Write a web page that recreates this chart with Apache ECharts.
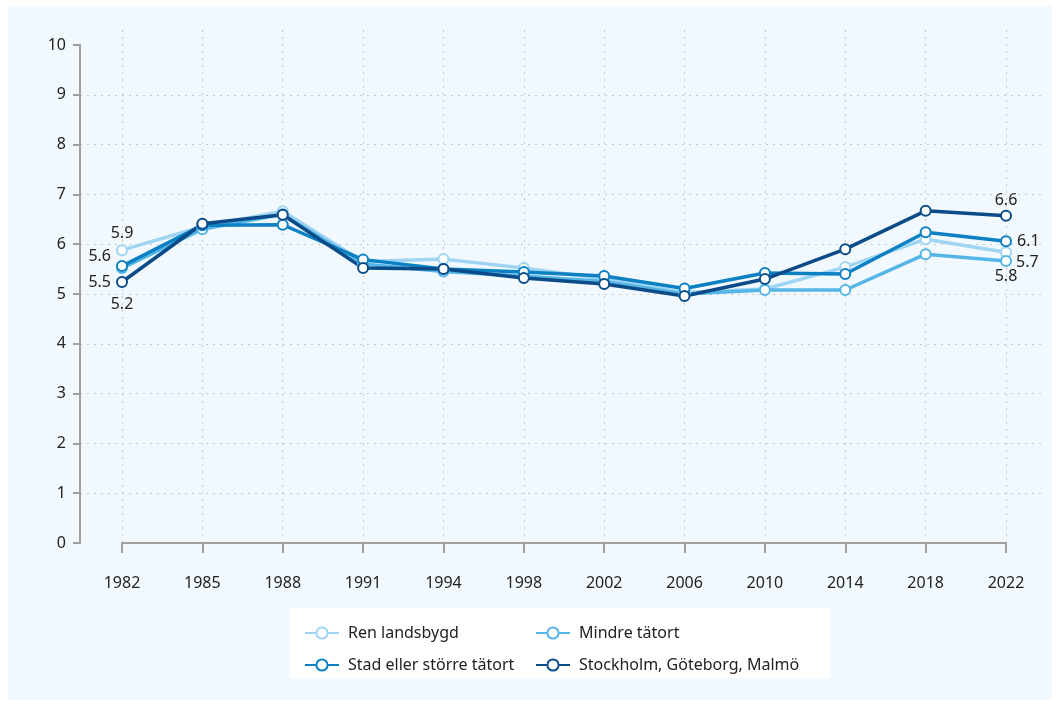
<!DOCTYPE html>
<html>
<head>
<meta charset="utf-8">
<script src="https://cdn.jsdelivr.net/npm/echarts@6/dist/echarts.min.js"></script>
<style>
  html, body { margin: 0; padding: 0; background: #fff; }
  #chart { width: 1060px; height: 706px; }
</style>
</head>
<body>
<div id="chart"></div>
<script>
// årtal och värden
var years = ['1982', '1985', '1988', '1991', '1994', '1998', '2002', '2006', '2010', '2014', '2018', '2022'];
var renLandsbygd = [5.88, 6.35, 6.66, 5.65, 5.70, 5.52, 5.30, 5.03, 5.10, 5.54, 6.10, 5.84];
var mindreTatort = [5.52, 6.30, 6.60, 5.60, 5.45, 5.36, 5.25, 5.00, 5.08, 5.08, 5.80, 5.66];
var stadStorre = [5.56, 6.38, 6.39, 5.69, 5.50, 5.44, 5.36, 5.11, 5.42, 5.40, 6.24, 6.06];
var storstad = [5.24, 6.41, 6.59, 5.52, 5.50, 5.32, 5.20, 4.96, 5.30, 5.90, 6.67, 6.57];
var yTicks = [0, 1, 2, 3, 4, 5, 6, 7, 8, 9, 10];

var textColor = '#222';
var fontFam = 'Noto Sans';
var fs = 16;

// etiketter vid första och sista punkten
function labelCfg(pos, dist, off) {
	return {
		show: true,
		position: pos,
		distance: dist,
		offset: off || [0, 0],
		color: textColor,
		fontSize: fs,
		fontFamily: fontFam,
		formatter: function(p) { return p.value.toFixed(1); }
	};
}

function makeSeries(name, values, color, firstLabel, lastLabel) {
	var data = values.map(function(v, i) {
		var item = { value: v };
		if (i == 0) item.label = firstLabel;
		if (i == values.length - 1) item.label = lastLabel;
		return item;
	});
	return {
		name: name,
		type: 'line',
		xAxisIndex: 1,
		yAxisIndex: 1,
		data: data,
		symbol: 'emptyCircle',
		symbolSize: 10,
		showAllSymbol: true,
		lineStyle: { color: color, width: 3.5 },
		itemStyle: { color: color, borderWidth: 2.2 },
		emphasis: { disabled: true },
		z: 3
	};
}

var myChart = echarts.init(document.getElementById('chart'));
var option = {
	animation: false,
	backgroundColor: '#fff',
	textStyle: { fontFamily: fontFam },
	graphic: [
		{ type: 'rect', shape: { x: 8, y: 6, width: 1044, height: 694 }, style: { fill: '#f1f9fe' }, z: -10, silent: true },
		{ type: 'rect', shape: { x: 290, y: 608, width: 540, height: 70 }, style: { fill: '#fff' }, z: -5, silent: true }
	],
	legend: [
		{
			data: ['Ren landsbygd', 'Stad eller större tätort'],
			orient: 'vertical',
			left: 299, top: 620,
			itemWidth: 34, itemHeight: 14, itemGap: 16,
			textStyle: { color: textColor, fontSize: fs, fontFamily: fontFam, padding: [0, 0, 0, 4] }
		},
		{
			data: ['Mindre tätort', 'Stockholm, Göteborg, Malmö'],
			orient: 'vertical',
			left: 530, top: 620,
			itemWidth: 34, itemHeight: 14, itemGap: 16,
			textStyle: { color: textColor, fontSize: fs, fontFamily: fontFam, padding: [0, 0, 0, 4] }
		}
	],
	grid: [
		{ left: 80, right: 18, top: 45, bottom: 163 },
		{ left: 122, right: 54, top: 30, bottom: 153 }
	],
	xAxis: [
		{ gridIndex: 0, type: 'value', show: false, min: 0, max: 1 },
		{
			gridIndex: 1,
			type: 'category',
			data: years,
			boundaryGap: false,
			offset: 4,
			axisLine: { show: true, lineStyle: { color: '#a0a0a0', width: 2 } },
			axisTick: { show: true, length: 10, alignWithLabel: true, lineStyle: { color: '#a0a0a0', width: 2 } },
			axisLabel: { color: textColor, fontSize: fs, fontFamily: fontFam, margin: 18 },
			splitLine: { show: true, lineStyle: { color: '#c8c8c8', type: [2, 5], width: 1 } }
		}
	],
	yAxis: [
		{
			gridIndex: 0,
			type: 'value',
			min: yTicks[0],
			max: yTicks[yTicks.length - 1],
			interval: 1,
			axisLine: { show: true, lineStyle: { color: '#a0a0a0', width: 2 } },
			axisTick: { show: true, length: 7, lineStyle: { color: '#a0a0a0', width: 2 } },
			axisLabel: { color: textColor, fontSize: fs, fontFamily: fontFam, margin: 14 },
			splitLine: { show: true, showMinLine: false, showMaxLine: false, lineStyle: { color: '#c8c8c8', type: [2, 5], width: 1 } }
		},
		{ gridIndex: 1, type: 'value', show: false, min: -0.2, max: 10.3, splitLine: { show: false } }
	],
	series: [
		makeSeries('Ren landsbygd', renLandsbygd, '#9fd4f2', labelCfg('top', 3), labelCfg('bottom', 10)),
		makeSeries('Mindre tätort', mindreTatort, '#56b5e7', labelCfg('left', 5, [0, 14]), labelCfg('right', 4, [0, 1])),
		makeSeries('Stad eller större tätort', stadStorre, '#0b80c2', labelCfg('left', 5, [0, -10]), labelCfg('right', 5)),
		makeSeries('Stockholm, Göteborg, Malmö', storstad, '#0b4c88', labelCfg('bottom', 8), labelCfg('top', 1))
	]
};
myChart.setOption(option);
</script>
</body>
</html>
